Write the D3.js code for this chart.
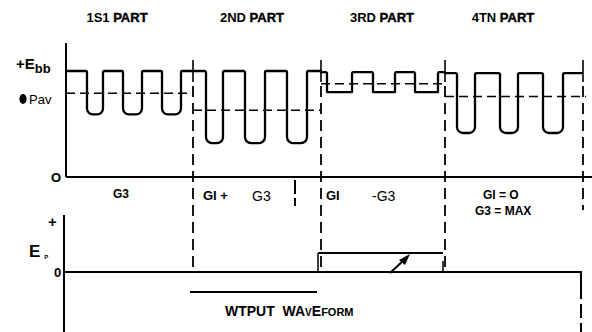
<!DOCTYPE html>
<html><head><meta charset="utf-8">
<script src="https://cdn.jsdelivr.net/npm/d3@7"></script>
<style>
body{margin:0;background:#fff}
svg{display:block}
text{font-family:"Liberation Sans",Arial,sans-serif;fill:#000;white-space:pre}
</style>
</head><body><svg id="c" width="592" height="332"></svg>
<script>
// ---- data (time units along x, voltage units for y; 100 = +Ebb) ----
const partTitles = ["1S1 PART", "2ND PART", "3RD PART", "4TN PART"];
const partBounds = [0, 127, 255, 379, 517];
const highLevel = [100, 100, 99, 98];
const lowLevel = [59, 32, 80, 41.5];
const avgLevel = [79, 63, 88, 76];
const dips = [
  [[21, 37], [57, 76], [96, 115]],
  [[140, 157], [179, 199], [221, 241]],
  [[261, 286], [307, 329], [349, 372]],
  [[391, 409], [434, 452], [477, 497]]
];
const roundedDips = [true, true, false, true];
const gridLabels = ["G3", "GI +", "G3", "GI", "-G3", "GI = O", "G3 = MAX"];
const outputLevel = [0, 0, 0.38, 0];      // plate output per part (bottom panel)
const outputWaveformLevel = -0.4;

// ---- scales ----
const x = d3.scaleLinear([0, 520], [66, 586]);
const yTop = d3.scaleLinear([0, 100], [177, 71]);
const yBot = d3.scaleLinear([0, 1], [272, 222]);

const svg = d3.select("#c");

// ---- top panel axes ----
svg.append("line").attr("x1", x(0)).attr("x2", x(0)).attr("y1", 43).attr("y2", yTop(0))
  .attr("stroke", "#000").attr("stroke-width", 2);
svg.append("line").attr("x1", x(0)).attr("x2", 592).attr("y1", yTop(0)).attr("y2", yTop(0))
  .attr("stroke", "#000").attr("stroke-width", 2);

// ---- waveform ----
const p = d3.path();
p.moveTo(x(0), yTop(highLevel[0]));
partTitles.forEach((_, i) => {
  const hi = yTop(highLevel[i]), lo = yTop(lowLevel[i]);
  const x0 = x(partBounds[i]);
  p.lineTo(x0, hi);
  const r = roundedDips[i] ? 6 : 0.5;
  dips[i].forEach(([a, b]) => {
    const xa = x(a), xb = x(b);
    p.lineTo(xa - 1.5, hi);
    p.arcTo(xa, hi, xa, hi + 2, 1.5);
    p.lineTo(xa, lo - r);
    p.arcTo(xa, lo, xa + r, lo, r);
    p.lineTo(xb - r, lo);
    p.arcTo(xb, lo, xb, lo - r, r);
    p.lineTo(xb, hi + 2);
    p.arcTo(xb, hi, xb + 2, hi, 1.5);
  });
  p.lineTo(x(partBounds[i + 1]), hi);
});
svg.append("path").attr("d", p.toString()).attr("fill", "none")
  .attr("stroke", "#000").attr("stroke-width", 2.3).attr("stroke-linejoin", "round");

// ---- average (Pav) dashed lines ----
partTitles.forEach((_, i) => {
  svg.append("line")
    .attr("x1", x(partBounds[i])).attr("x2", x(partBounds[i + 1]) + (i === 3 ? 3 : 0))
    .attr("y1", yTop(avgLevel[i])).attr("y2", yTop(avgLevel[i]))
    .attr("stroke", "#000").attr("stroke-width", 1.6).attr("stroke-dasharray", "9,5");
});

// ---- part boundaries ----
const boundaryBottom = [268, 272, 272, 210];
partBounds.slice(1).forEach((t, i) => {
  const bx = x(t);
  svg.append("line").attr("x1", bx).attr("x2", bx).attr("y1", 60).attr("y2", 82)
    .attr("stroke", "#000").attr("stroke-width", 1.6);
  svg.append("line").attr("x1", bx).attr("x2", bx).attr("y1", 86).attr("y2", boundaryBottom[i])
    .attr("stroke", "#000").attr("stroke-width", 1.8).attr("stroke-dasharray", "11,6");
});
// extra short dash in 2nd part label row
svg.append("line").attr("x1", 295).attr("x2", 295).attr("y1", 180).attr("y2", 206)
  .attr("stroke", "#000").attr("stroke-width", 2).attr("stroke-dasharray", "14,4");

// ---- titles ----
const titleX = [117, 252, 382, 503];
partTitles.forEach((t, i) => {
  const [a, b] = t.split(" ");
  const tx = svg.append("text").attr("x", titleX[i]).attr("y", 22).attr("text-anchor", "middle")
    .attr("font-size", 13).attr("font-weight", "bold");
  tx.append("tspan").text(a + " ");
  tx.append("tspan").attr("stroke", "#000").attr("stroke-width", 0.4).text(b);
});

// ---- left labels, top ----
const eb = svg.append("text").attr("x", 16).attr("y", 69).attr("font-size", 15).attr("font-weight", "bold");
eb.append("tspan").text("+E");
eb.append("tspan").attr("font-size", 13).attr("dy", 4).text("bb");
svg.append("ellipse").attr("cx", 23).attr("cy", 99).attr("rx", 3.6).attr("ry", 5).attr("fill", "#000");
svg.append("text").attr("x", 29).attr("y", 104).attr("font-size", 13).text("Pav");
svg.append("text").attr("x", 51).attr("y", 182).attr("font-size", 13).attr("font-weight", "bold").text("O");

// ---- grid condition labels ----
const glPos = [[113, 198, 12, true], [203, 200, 13, true], [252, 201, 14, false],
  [326, 200, 13, true], [372, 201, 14, false], [483, 199, 12, true], [475, 215, 12, true]];
gridLabels.forEach((t, i) => {
  const [gx, gy, fs, b] = glPos[i];
  svg.append("text").attr("x", gx).attr("y", gy).attr("font-size", fs)
    .attr("font-weight", b ? "bold" : "normal").text(t);
});

// ---- bottom panel ----
svg.append("line").attr("x1", 64).attr("x2", 64).attr("y1", 215).attr("y2", 332)
  .attr("stroke", "#000").attr("stroke-width", 2);
svg.append("line").attr("x1", 64).attr("x2", 581).attr("y1", yBot(0)).attr("y2", yBot(0))
  .attr("stroke", "#000").attr("stroke-width", 2);
svg.append("line").attr("x1", 581).attr("x2", 581).attr("y1", yBot(0) - 1).attr("y2", 332)
  .attr("stroke", "#000").attr("stroke-width", 2).attr("stroke-dasharray", "28,5,14,5,20");
svg.append("text").attr("x", 48).attr("y", 227).attr("font-size", 15).attr("font-weight", "bold").text("+");
const ep = svg.append("text").attr("x", 29).attr("y", 257).attr("font-size", 17).attr("font-weight", "bold");
ep.append("tspan").text("E");
ep.append("tspan").attr("font-size", 6).attr("dx", 4).attr("dy", 2).text("P");
svg.append("text").attr("x", 54).attr("y", 277).attr("font-size", 13).attr("font-weight", "bold").text("0");

// output level in 3rd part
const o3 = yBot(outputLevel[2]);
svg.append("line").attr("x1", x(partBounds[2]) - 3).attr("x2", x(partBounds[3]) - 2)
  .attr("y1", o3).attr("y2", o3).attr("stroke", "#000").attr("stroke-width", 2);
svg.append("line").attr("x1", x(partBounds[2]) - 3).attr("x2", x(partBounds[2]) - 3)
  .attr("y1", o3).attr("y2", yBot(0)).attr("stroke", "#000").attr("stroke-width", 1.5);
svg.append("line").attr("x1", x(partBounds[3]) - 2).attr("x2", x(partBounds[3]) - 2)
  .attr("y1", o3 + 8).attr("y2", yBot(0)).attr("stroke", "#000").attr("stroke-width", 1.5);
// arrow
svg.append("line").attr("x1", 390).attr("x2", 404).attr("y1", yBot(0) + 1).attr("y2", o3 + 7)
  .attr("stroke", "#000").attr("stroke-width", 2);
svg.append("path").attr("d", `M410,${o3 + 1} L399,${o3 + 7} L405,${o3 + 12} Z`).attr("fill", "#000");

// output waveform label
const ow = yBot(outputWaveformLevel);
svg.append("line").attr("x1", 190).attr("x2", 317).attr("y1", ow).attr("y2", ow)
  .attr("stroke", "#000").attr("stroke-width", 1.8);
const wt = svg.append("text").attr("x", 225).attr("y", 316).attr("font-size", 14).attr("font-weight", "bold");
wt.append("tspan").text("WTPUT  WA");
wt.append("tspan").attr("font-size", 10).text("V");
wt.append("tspan").text("E");
wt.append("tspan").attr("font-size", 11).text("FORM");
</script></body></html>
